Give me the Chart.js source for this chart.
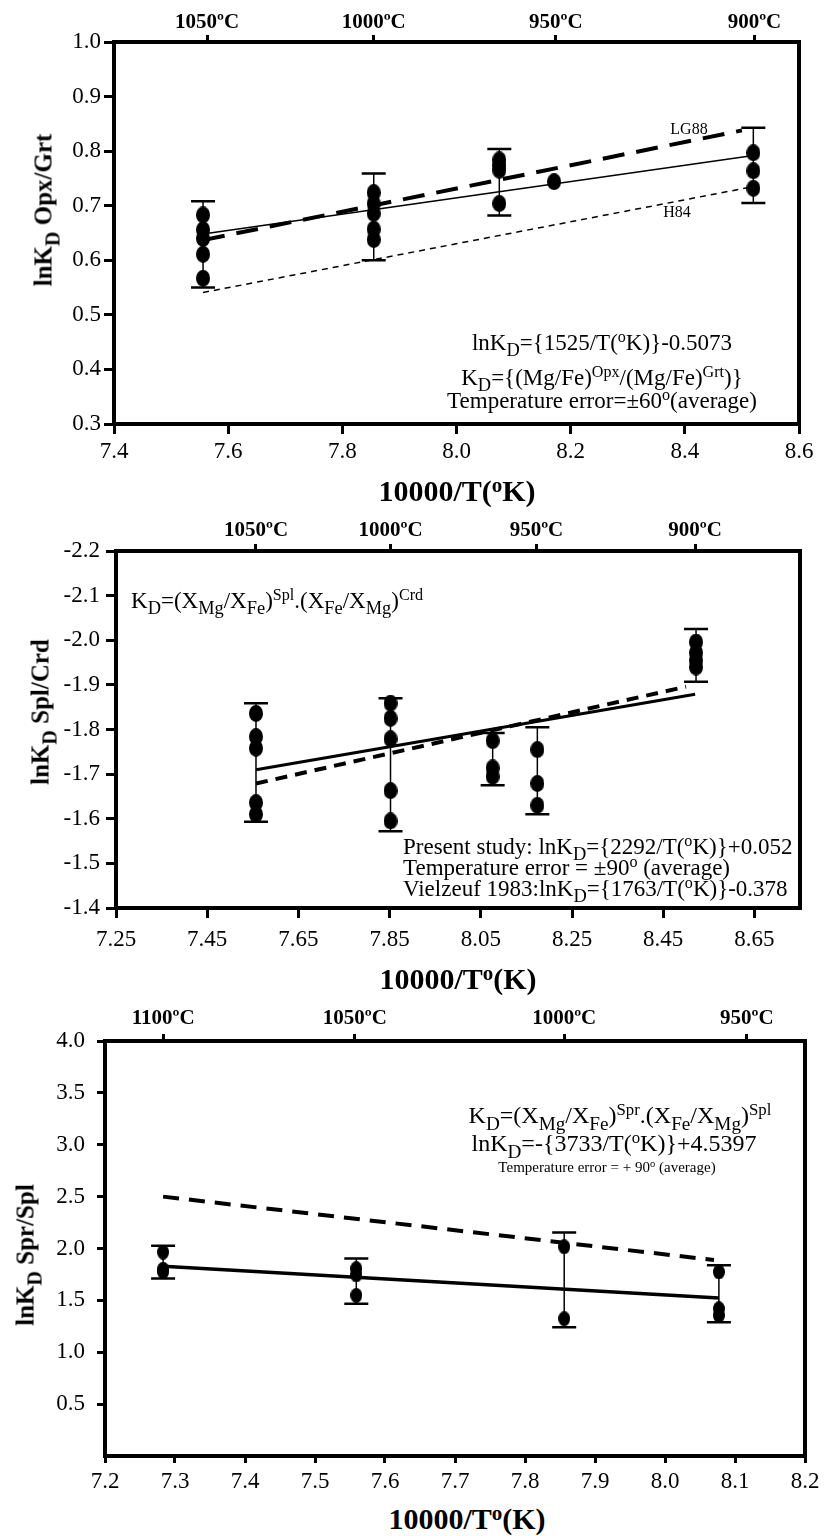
<!DOCTYPE html>
<html><head><meta charset="utf-8">
<script src="https://cdn.jsdelivr.net/npm/chart.js@4/dist/chart.umd.min.js"></script>
<style>
html,body{margin:0;padding:0;background:#fff;}
body{width:828px;height:1536px;position:relative;overflow:hidden;font-family:"Liberation Serif","Times New Roman",serif;color:#000;}
canvas{position:absolute;left:0;}
.t{position:absolute;white-space:nowrap;color:#000;line-height:1;}
.c{transform:translate(-50%,-50%);}
.l{transform:translate(0,-50%);}
.yt{position:absolute;font-weight:bold;font-size:25px;white-space:nowrap;line-height:1;transform:translate(-50%,-50%) rotate(-90deg);}
.xt{position:absolute;font-weight:bold;font-size:30px;white-space:nowrap;line-height:1;transform:translate(-50%,-50%);}
sub{font-size:0.8em;vertical-align:-0.38em;line-height:0;}
sup{font-size:0.7em;vertical-align:0.45em;line-height:0;}
</style></head>
<body>
<canvas id="c1" width="828" height="470" style="top:0px"></canvas>
<canvas id="c2" width="828" height="470" style="top:490px"></canvas>
<canvas id="c3" width="828" height="520" style="top:980px"></canvas>

<!-- axis titles -->
<div class="yt" style="left:43px;top:210px">lnK<sub>D</sub> Opx/Grt</div>
<div class="xt" style="left:457px;top:491px">10000/T(<sup>o</sup>K)</div>
<div class="yt" style="left:40px;top:712px">lnK<sub>D</sub> Spl/Crd</div>
<div class="xt" style="left:458px;top:979px">10000/T<sup>o</sup>(K)</div>
<div class="yt" style="left:25px;top:1255px">lnK<sub>D</sub> Spr/Spl</div>
<div class="xt" style="left:467px;top:1519px">10000/T<sup>o</sup>(K)</div>

<!-- panel 1 annotations -->
<div class="t c" style="left:689px;top:129px;font-size:16px">LG88</div>
<div class="t c" style="left:677px;top:212px;font-size:16px">H84</div>
<div class="t c" style="left:602px;top:342px;font-size:23px">lnK<sub>D</sub>={1525/T(<sup>o</sup>K)}-0.5073</div>
<div class="t c" style="left:602px;top:377px;font-size:23px">K<sub>D</sub>={(Mg/Fe)<sup>Opx</sup>/(Mg/Fe)<sup>Grt</sup>)}</div>
<div class="t c" style="left:602px;top:400px;font-size:23px">Temperature error=±60<sup>o</sup>(average)</div>

<!-- panel 2 annotations -->
<div class="t l" style="left:131px;top:600px;font-size:23px">K<sub>D</sub>=(X<sub>Mg</sub>/X<sub>Fe</sub>)<sup>Spl</sup>.(X<sub>Fe</sub>/X<sub>Mg</sub>)<sup>Crd</sup></div>
<div class="t l" style="left:403px;top:846px;font-size:23px">Present study: lnK<sub>D</sub>={2292/T(<sup>o</sup>K)}+0.052</div>
<div class="t l" style="left:403px;top:867px;font-size:23px">Temperature error = ±90<sup>o</sup> (average)</div>
<div class="t l" style="left:403px;top:888px;font-size:23px">Vielzeuf 1983:lnK<sub>D</sub>={1763/T(<sup>o</sup>K)}-0.378</div>

<!-- panel 3 annotations -->
<div class="t c" style="left:620px;top:1115px;font-size:24px">K<sub>D</sub>=(X<sub>Mg</sub>/X<sub>Fe</sub>)<sup>Spr</sup>.(X<sub>Fe</sub>/X<sub>Mg</sub>)<sup>Spl</sup></div>
<div class="t c" style="left:614px;top:1143px;font-size:24px">lnK<sub>D</sub>=-{3733/T(<sup>o</sup>K)}+4.5397</div>
<div class="t c" style="left:607px;top:1167px;font-size:15px">Temperature error = + 90<sup>o</sup> (average)</div>

<script>
const FONT = '"Liberation Serif","Times New Roman",serif';

// ---------- Panel 1: Opx/Grt ----------
const p1X = [7.556, 7.855, 8.075, 8.171, 8.520];
const p1Y = [
  [0.683, 0.656, 0.640, 0.611, 0.567],
  [0.724, 0.704, 0.686, 0.657, 0.638],
  [0.784, 0.774, 0.765, 0.704],
  [0.744],
  [0.797, 0.764, 0.732]
];
const p1ErrLow  = [0.550, 0.600, 0.682, null, 0.705];
const p1ErrHigh = [0.708, 0.759, 0.804, null, 0.843];
const p1FitX  = [7.556, 8.520]; const p1FitY  = [0.648, 0.792];
const p1LG88X = [7.556, 8.500]; const p1LG88Y = [0.637, 0.838];
const p1H84X  = [7.556, 8.520]; const p1H84Y  = [0.541, 0.735];
const p1XTicks = [7.4, 7.6, 7.8, 8.0, 8.2, 8.4, 8.6];
const p1XLabels = ['7.4', '7.6', '7.8', '8.0', '8.2', '8.4', '8.6'];
const p1YTicks = [0.3, 0.4, 0.5, 0.6, 0.7, 0.8, 0.9, 1.0];
const p1YLabels = ['0.3', '0.4', '0.5', '0.6', '0.7', '0.8', '0.9', '1.0'];
const p1TopTicks = [7.563, 7.855, 8.174, 8.522];
const p1TopLabels = ['1050ºC', '1000ºC', '950ºC', '900ºC'];

// ---------- Panel 2: Spl/Crd ----------
const p2X = [7.557, 7.852, 8.076, 8.174, 8.522];
const p2Y = [
  [-1.836, -1.784, -1.758, -1.636, -1.610],
  [-1.859, -1.825, -1.779, -1.663, -1.595],
  [-1.775, -1.714, -1.695],
  [-1.755, -1.679, -1.630],
  [-1.996, -1.972, -1.955, -1.940]
];
const p2ErrLow  = [-1.593, -1.572, -1.675, -1.610, -1.907];
const p2ErrHigh = [-1.859, -1.870, -1.792, -1.805, -2.025];
const p2FitX = [7.557, 8.520]; const p2FitY = [-1.710, -1.879];
const p2VielX = [7.557, 8.500]; const p2VielY = [-1.679, -1.896];
const p2XTicks = [7.25, 7.45, 7.65, 7.85, 8.05, 8.25, 8.45, 8.65];
const p2XLabels = ['7.25', '7.45', '7.65', '7.85', '8.05', '8.25', '8.45', '8.65'];
const p2YTicks = [-2.2, -2.1, -2.0, -1.9, -1.8, -1.7, -1.6, -1.5, -1.4];
const p2YLabels = ['-2.2', '-2.1', '-2.0', '-1.9', '-1.8', '-1.7', '-1.6', '-1.5', '-1.4'];
const p2TopTicks = [7.557, 7.852, 8.172, 8.520];
const p2TopLabels = ['1050ºC', '1000ºC', '950ºC', '900ºC'];

// ---------- Panel 3: Spr/Spl ----------
const p3X = [7.283, 7.559, 7.856, 8.077];
const p3Y = [
  [1.965, 1.800, 1.775],
  [1.806, 1.745, 1.548],
  [2.016, 1.323],
  [1.774, 1.419, 1.355]
];
const p3ErrLow  = [1.710, 1.468, 1.242, 1.290];
const p3ErrHigh = [2.026, 1.903, 2.155, 1.839];
const p3FitX  = [7.283, 8.077]; const p3FitY  = [1.829, 1.523];
const p3DashX = [7.283, 8.070]; const p3DashY = [2.500, 1.889];
const p3XTicks = [7.2, 7.3, 7.4, 7.5, 7.6, 7.7, 7.8, 7.9, 8.0, 8.1, 8.2];
const p3XLabels = ['7.2', '7.3', '7.4', '7.5', '7.6', '7.7', '7.8', '7.9', '8.0', '8.1', '8.2'];
const p3YTicks = [0.5, 1.0, 1.5, 2.0, 2.5, 3.0, 3.5, 4.0];
const p3YLabels = ['0.5', '1.0', '1.5', '2.0', '2.5', '3.0', '3.5', '4.0'];
const p3TopTicks = [7.283, 7.557, 7.856, 8.117];
const p3TopLabels = ['1100ºC', '1050ºC', '1000ºC', '950ºC'];

function ellipseMarker(w, h) {
  const c = document.createElement('canvas');
  c.width = w; c.height = h;
  const g = c.getContext('2d');
  g.fillStyle = '#000';
  g.beginPath(); g.ellipse(w / 2, h / 2, w / 2, h / 2, 0, 0, Math.PI * 2); g.fill();
  return c;
}

const errorBars = {
  id: 'errorBars',
  beforeDatasetsDraw(chart, args, opts) {
    const ctx = chart.ctx, xs = chart.scales.x, ys = chart.scales.y;
    ctx.save();
    ctx.strokeStyle = '#000';
    opts.xs.forEach((x, i) => {
      if (opts.low[i] == null) return;
      const px = xs.getPixelForValue(x);
      const a = ys.getPixelForValue(opts.low[i]);
      const b = ys.getPixelForValue(opts.high[i]);
      ctx.lineWidth = opts.lw;
      ctx.beginPath(); ctx.moveTo(px, a); ctx.lineTo(px, b); ctx.stroke();
      ctx.lineWidth = opts.capW;
      ctx.beginPath();
      ctx.moveTo(px - opts.cap / 2, a); ctx.lineTo(px + opts.cap / 2, a);
      ctx.moveTo(px - opts.cap / 2, b); ctx.lineTo(px + opts.cap / 2, b);
      ctx.stroke();
    });
    ctx.restore();
  }
};
const frame = {
  id: 'frame',
  afterDraw(chart, args, opts) {
    const c = chart.chartArea, ctx = chart.ctx;
    ctx.save();
    ctx.strokeStyle = '#000';
    ctx.lineWidth = opts.w;
    ctx.strokeRect(c.left, c.top, c.right - c.left, c.bottom - c.top);
    ctx.restore();
  }
};

function axisCommon(tickVals, labels, fontSize, bold, pad, tl) {
  return {
    type: 'linear',
    afterBuildTicks: a => { a.ticks = tickVals.map(v => ({ value: v })); },
    ticks: {
      autoSkip: false, maxRotation: 0, minRotation: 0, padding: pad, color: '#000',
      font: { family: FONT, size: fontSize, weight: bold ? 'bold' : 'normal' },
      callback: (v, i) => labels[i]
    },
    grid: { drawOnChartArea: false, drawTicks: true, tickLength: tl, tickWidth: 3, tickColor: '#000', color: '#000' },
    border: { display: false }
  };
}

function build(id, o) {
  const cv = document.getElementById(id);
  const H = cv.height;
  const pts = [];
  o.xs.forEach((x, i) => o.ys[i].forEach(y => pts.push({ x, y })));
  const datasets = o.lines.map(l => ({
    type: 'line',
    data: l.x.map((x, i) => ({ x, y: l.y[i] })),
    borderColor: '#000', borderWidth: l.w, borderDash: l.dash || [],
    pointRadius: 0, fill: false, tension: 0, order: 2, showLine: true
  }));
  datasets.push({
    type: 'scatter', data: pts, pointStyle: ellipseMarker(o.mw, o.mh), pointRadius: 7,
    pointBackgroundColor: '#000', pointBorderColor: '#000', pointBorderWidth: 0, order: 1
  });
  const x = Object.assign(axisCommon(o.xTicks, o.xLabels, 23, false, o.xPad, o.xTL), {
    position: 'bottom', min: o.xMin, max: o.xMax,
    afterFit: s => { s.height = H - o.area.bottom; }
  });
  const x2 = Object.assign(axisCommon(o.topTicks, o.topLabels, 21, true, o.topPad, 7), {
    position: 'top', min: o.xMin, max: o.xMax,
    afterFit: s => { s.height = o.area.top; }
  });
  const y = Object.assign(axisCommon(o.yTicks, o.yLabels, 23, false, o.yPad, o.yTL), {
    position: 'left', min: o.yMin, max: o.yMax, reverse: !!o.reverse,
    afterFit: s => { s.width = o.area.left; }
  });
  return new Chart(cv, {
    type: 'scatter',
    data: { datasets },
    options: {
      responsive: false, animation: false, devicePixelRatio: 1, events: [],
      layout: { padding: { left: 0, top: 0, bottom: 0, right: 828 - o.area.right } },
      plugins: {
        legend: { display: false }, tooltip: { enabled: false },
        errorBars: { xs: o.xs, low: o.low, high: o.high, lw: 1.5, capW: 2.5, cap: 24 },
        frame: { w: 4 }
      },
      scales: { x, x2, y }
    },
    plugins: [errorBars, frame]
  });
}

build('c1', {
  area: { left: 114, right: 799, top: 42, bottom: 424 },
  xMin: 7.4, xMax: 8.6, xTicks: p1XTicks, xLabels: p1XLabels, xPad: 4, xTL: 10,
  yMin: 0.3, yMax: 1.0, yTicks: p1YTicks, yLabels: p1YLabels, yPad: 3, yTL: 10,
  topTicks: p1TopTicks, topLabels: p1TopLabels, topPad: 0,
  xs: p1X, ys: p1Y, low: p1ErrLow, high: p1ErrHigh, mw: 14, mh: 17,
  lines: [
    { x: p1FitX, y: p1FitY, w: 1.5 },
    { x: p1LG88X, y: p1LG88Y, w: 4, dash: [22, 12] },
    { x: p1H84X, y: p1H84Y, w: 1.5, dash: [6, 5] }
  ]
});

build('c2', {
  area: { left: 116, right: 800, top: 61, bottom: 418 },
  xMin: 7.25, xMax: 8.75, xTicks: p2XTicks, xLabels: p2XLabels, xPad: 8, xTL: 10,
  yMin: -2.2, yMax: -1.4, reverse: true, yTicks: p2YTicks, yLabels: p2YLabels, yPad: 6, yTL: 10,
  topTicks: p2TopTicks, topLabels: p2TopLabels, topPad: 1,
  xs: p2X, ys: p2Y, low: p2ErrLow, high: p2ErrHigh, mw: 14, mh: 17,
  lines: [
    { x: p2FitX, y: p2FitY, w: 3 },
    { x: p2VielX, y: p2VielY, w: 4, dash: [12, 8] }
  ]
});

build('c3', {
  area: { left: 105, right: 805, top: 61, bottom: 476 },
  xMin: 7.2, xMax: 8.2, xTicks: p3XTicks, xLabels: p3XLabels, xPad: 5, xTL: 7,
  yMin: 0, yMax: 4.0, yTicks: p3YTicks, yLabels: p3YLabels, yPad: 12, yTL: 8,
  topTicks: p3TopTicks, topLabels: p3TopLabels, topPad: 3,
  xs: p3X, ys: p3Y, low: p3ErrLow, high: p3ErrHigh, mw: 12, mh: 15,
  lines: [
    { x: p3FitX, y: p3FitY, w: 3.5 },
    { x: p3DashX, y: p3DashY, w: 4, dash: [16, 10] }
  ]
});
</script>
</body></html>
